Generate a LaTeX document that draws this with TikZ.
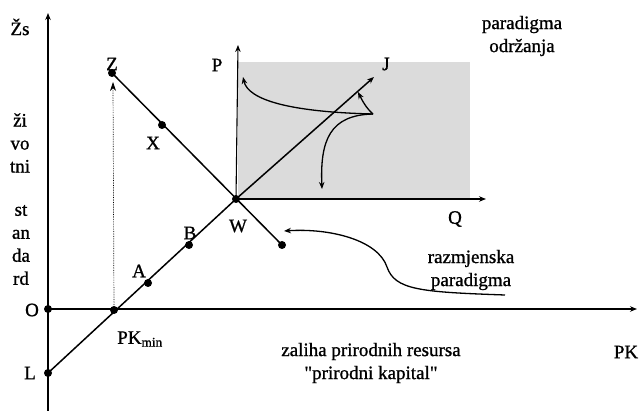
\documentclass[tikz,border=0pt]{standalone}
\usepackage{fontspec}
\setmainfont{Liberation Serif}[FakeBold=1]
\newfontfamily\qfont{Liberation Serif}[FakeBold=1]
\usetikzlibrary{arrows.meta}
\begin{document}
\begin{tikzpicture}[x=1pt,y=-1pt,
  dot/.style={circle, fill=black, inner sep=0pt, minimum size=8pt},
  lbl/.style={font=\fontsize{19}{23}\selectfont, inner sep=0pt},
  stack/.style={font=\fontsize{19}{23}\selectfont, inner sep=0pt, align=center},
  tip/.style={-{Stealth[length=7pt,width=5.5pt]}},
  axisline/.style={line width=1.1pt, tip},
  thick line/.style={line width=1.5pt},
  curve/.style={line width=1.3pt, tip}]
\useasboundingbox (0,0) rectangle (639,411);
% shaded region
\fill[gray!28] (238,62) rectangle (470,199);
% coordinates
\coordinate (yb) at (48,411);
\coordinate (yt) at (48,13);
\coordinate (xe) at (637,309);
\coordinate (Pt) at (238,45);
\coordinate (Qt) at (486,199);
\coordinate (Jt) at (374,77);
\coordinate (Zt) at (113,82);
\coordinate (C) at (373,114);
\coordinate (C1) at (243,77);
\coordinate (C2) at (358,92);
\coordinate (C3) at (322,189);
\coordinate (R0) at (505,295);
\coordinate (R1) at (387,267);
\coordinate (R2) at (284,231);
% dots
\node[dot] (O) at (48,309) {};
\node[dot] (L) at (48,373) {};
\node[dot] (PKm) at (114,310) {};
\node[dot] (A) at (148,283) {};
\node[dot] (B) at (189,245) {};
\node[dot] (W) at (236,199) {};
\node[dot] (Z) at (112,73) {};
\node[dot] (X) at (162,125) {};
\node[dot] (E) at (282,245) {};
% main axes
\draw[axisline] (yb) -- (yt);
\draw[axisline] (O.center) -- (xe);
% inner axes
\draw[axisline] (W.center) -- (Pt);
\draw[axisline] (W.center) -- (Qt);
% lines
\draw[thick line] (L.center) -- (W.center);
\draw[thick line, tip] (W.center) -- (Jt);
\draw[thick line] (Z.center) -- (E.center);
\draw[densely dotted, line width=0.7pt, -{Stealth[length=9pt,width=6pt]}] (PKm.center) -- (Zt);
% curves
\draw[curve] (C) .. controls (290,112) and (248,100) .. (C1);
\draw[curve] (C) .. controls (366,108) and (362,100) .. (C2);
\draw[curve] (C) .. controls (330,115) and (320,140) .. (C3);
\draw[curve] (R0) .. controls (420,292) and (395,290) .. (R1)
  .. controls (378,240) and (330,228) .. (R2);
% labels
\node[lbl] (tZs) at (20,27) {Žs};
\node[lbl] (tZ) at (112,64) {Z};
\node[lbl] (tX) at (153,143) {X};
\node[stack] (tziv) at (20,143) {ži\\vo\\tni};
\node[stack] (tstd) at (21,245) {st\\an\\da\\rd};
\node[lbl] (tO) at (32,310) {O};
\node[lbl] (tL) at (30,373) {L};
\node[lbl] (tPKm) at (140,339) {PK\textsubscript{min}};
\node[lbl] (tA) at (139,271) {A};
\node[lbl] (tB) at (190,233) {B};
\node[lbl] (tW) at (238,226) {W};
\node[lbl] (tP) at (217,65) {P};
\node[lbl] (tJ) at (386,64) {J};
\node[lbl] (tQ) at (455,219) {Q};
\node[stack] (tpo) at (522,36) {paradigma\\održanja};
\node[stack] (trp) at (471,270) {razmjenska\\paradigma};
\node[stack] (tzal) at (371,363) {zaliha prirodnih resursa\\{\qfont"}prirodni kapital{\qfont"}};
\node[lbl] (tPK) at (626,352) {PK};
\end{tikzpicture}
\end{document}
